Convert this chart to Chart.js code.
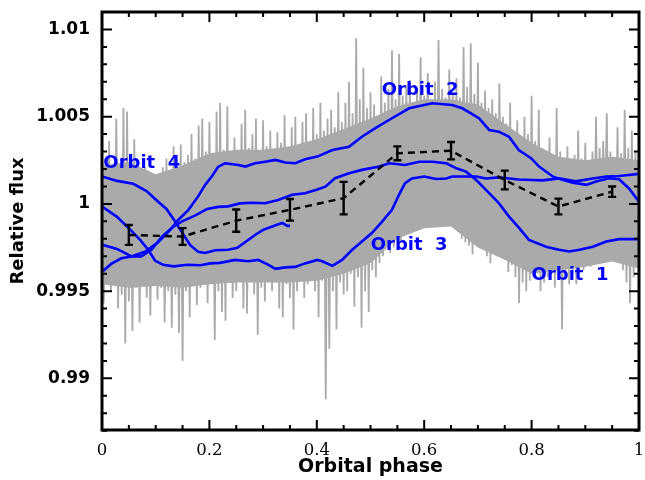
<!DOCTYPE html>
<html lang="en">
<head>
<meta charset="UTF-8">
<title>Relative flux vs orbital phase</title>
<script src="https://cdn.jsdelivr.net/npm/chart.js@4.4.1/dist/chart.umd.min.js"></script>
<style>
    html, body { margin: 0; padding: 0; background: #fff; }
    #wrap { width: 645px; height: 480px; }
</style>
</head>
<body>
<div id="wrap"><canvas id="fluxChart" width="645" height="480"></canvas></div>
<script>
// raw light curve: upper and lower excursion in each phase sample
const rawHi = [
    1.0031, 1.0018, 1.0036, 1.0020, 1.0049, 1.0022, 1.0055, 1.0053, 1.0026, 1.0037,
    1.0023, 1.0016, 1.0021, 1.0019, 1.0014, 1.0009, 1.0012, 1.0021, 1.0026, 1.0018,
    1.0033, 1.0020, 1.0034, 1.0024, 1.0028, 1.0040, 1.0026, 1.0045, 1.0049, 1.0030,
    1.0047, 1.0028, 1.0053, 1.0058, 1.0031, 1.0056, 1.0030, 1.0038, 1.0027, 1.0046,
    1.0054, 1.0032, 1.0040, 1.0049, 1.0029, 1.0048, 1.0033, 1.0042, 1.0030, 1.0041,
    1.0035, 1.0051, 1.0032, 1.0044, 1.0050, 1.0034, 1.0047, 1.0052, 1.0036, 1.0055,
    1.0040, 1.0058, 1.0042, 1.0049, 1.0054, 1.0044, 1.0064, 1.0047, 1.0058, 1.0070,
    1.0052, 1.0095, 1.0060, 1.0078, 1.0055, 1.0064, 1.0057, 1.0050, 1.0073, 1.0058,
    1.0066, 1.0088, 1.0060, 1.0086, 1.0062, 1.0068, 1.0071, 1.0058, 1.0066, 1.0084,
    1.0062, 1.0075, 1.0060, 1.0070, 1.0094, 1.0066, 1.0061, 1.0077, 1.0064, 1.0072,
    1.0061, 1.0090, 1.0067, 1.0092, 1.0063, 1.0081, 1.0058, 1.0065, 1.0055, 1.0060,
    1.0052, 1.0069, 1.0050, 1.0046, 1.0058, 1.0042, 1.0048, 1.0038, 1.0050, 1.0040,
    1.0062, 1.0036, 1.0054, 1.0032, 1.0030, 1.0038, 1.0028, 1.0055, 1.0030, 1.0026,
    1.0033, 1.0024, 1.0028, 1.0042, 1.0026, 1.0035, 1.0025, 1.0030, 1.0050, 1.0032,
    1.0036, 1.0052, 1.0030, 1.0027, 1.0044, 1.0029, 1.0054, 1.0032, 1.0042, 1.0030,
    1.0037
];
const rawLo = [
    0.9943, 0.9955, 0.9950, 0.9958, 0.9940, 0.9948, 0.9920, 0.9944, 0.9927, 0.9952,
    0.9932, 0.9955, 0.9946, 0.9936, 0.9956, 0.9945, 0.9952, 0.9932, 0.9950, 0.9929,
    0.9948, 0.9926, 0.9910, 0.9950, 0.9935, 0.9955, 0.9942, 0.9952, 0.9958, 0.9943,
    0.9954, 0.9922, 0.9950, 0.9938, 0.9933, 0.9955, 0.9946, 0.9950, 0.9958, 0.9940,
    0.9937, 0.9956, 0.9948, 0.9925, 0.9952, 0.9944, 0.9958, 0.9950, 0.9955, 0.9940,
    0.9935, 0.9954, 0.9946, 0.9928, 0.9950, 0.9956, 0.9946, 0.9954, 0.9958, 0.9950,
    0.9935, 0.9956, 0.9888, 0.9917, 0.9950, 0.9928, 0.9955, 0.9948, 0.9950, 0.9960,
    0.9941, 0.9958, 0.9929, 0.9950, 0.9938, 0.9962, 0.9958, 0.9966, 0.9970, 0.9975,
    0.9972, 0.9975, 0.9980, 0.9978, 0.9985, 0.9983, 0.9988, 0.9985, 0.9988, 0.9987,
    0.9990, 0.9987, 0.9992, 0.9989, 0.9992, 0.9990, 0.9988, 0.9991, 0.9986, 0.9984,
    0.9980, 0.9978, 0.9976, 0.9971, 0.9978, 0.9977, 0.9974, 0.9970, 0.9966, 0.9972,
    0.9970, 0.9977, 0.9968, 0.9961, 0.9965, 0.9958, 0.9943, 0.9955, 0.9950, 0.9956,
    0.9958, 0.9961, 0.9950, 0.9955, 0.9958, 0.9962, 0.9952, 0.9960, 0.9928, 0.9958,
    0.9954, 0.9960, 0.9954, 0.9966, 0.9962, 0.9968, 0.9964, 0.9975, 0.9970, 0.9981,
    0.9994, 0.9978, 0.9985, 0.9972, 0.9968, 0.9962, 0.9955, 0.9943, 0.9958, 0.9966,
    0.9960
];

// range that holds the bulk of the raw points, every 0.05 in phase
const corePhase = [0, 0.05, 0.1, 0.15, 0.2, 0.25, 0.3, 0.35, 0.4, 0.45, 0.5,
    0.55, 0.6, 0.65, 0.7, 0.75, 0.8, 0.85, 0.9, 0.95, 1];
const coreTop = [1.0022, 1.0024, 1.0017, 1.0022, 1.0029, 1.0031, 1.0031, 1.0033, 1.0037, 1.0043, 1.0049,
    1.0056, 1.0060, 1.0060, 1.0057, 1.0046, 1.0035, 1.0027, 1.0025, 1.0027, 1.0025];
const coreBot = [0.9954, 0.9952, 0.9953, 0.9952, 0.9954, 0.9955, 0.9955, 0.9955, 0.9956, 0.9960, 0.9966,
    0.9980, 0.9986, 0.9987, 0.9975, 0.9968, 0.9960, 0.9962, 0.9964, 0.9967, 0.9963];

// smoothed light curve of each HST orbit
const orbit1Phase = [0.002, 0.028, 0.055, 0.073, 0.092, 0.112, 0.131, 0.149, 0.172, 0.196,
    0.216, 0.235, 0.257, 0.280, 0.304, 0.328, 0.354, 0.378, 0.401, 0.416, 0.434, 0.460,
    0.484, 0.516, 0.535, 0.564, 0.591, 0.615, 0.641, 0.660, 0.678, 0.697, 0.715, 0.739,
    0.758, 0.777, 0.795, 0.827, 0.851, 0.870, 0.889, 0.914, 0.939, 0.963, 1.0];
const orbit1Flux = [0.99765, 0.99742, 0.99699, 0.99699, 0.99737, 0.99814, 0.99865, 0.99900,
    0.99931, 0.99971, 0.99983, 0.99986, 1.00003, 1.00007, 1.00004, 1.00023, 1.00052, 1.00061,
    1.00083, 1.00099, 1.00147, 1.00176, 1.00195, 1.00214, 1.00233, 1.00223, 1.00242, 1.00242,
    1.00233, 1.00204, 1.00185, 1.00137, 1.00080, 1.00004, 0.99927, 0.99861, 0.99794, 0.99755,
    0.99737, 0.99727, 0.99737, 0.99755, 0.99784, 0.99798, 0.99798];

const orbit2Phase = [0.002, 0.017, 0.036, 0.055, 0.081, 0.105, 0.127, 0.142, 0.161, 0.179,
    0.192, 0.205, 0.216, 0.229, 0.254, 0.267, 0.285, 0.304, 0.323, 0.341, 0.360, 0.378,
    0.401, 0.429, 0.460, 0.484, 0.509, 0.540, 0.572, 0.600, 0.615, 0.652, 0.671, 0.702,
    0.721, 0.739, 0.758, 0.776, 0.799, 0.814, 0.840, 0.859, 0.877, 0.902, 0.920, 0.944,
    0.963, 0.981, 1.0];
const orbit2Flux = [0.99616, 0.99656, 0.99688, 0.99699, 0.99728, 0.99782, 0.99851, 0.99908,
    0.99966, 1.00043, 1.00109, 1.00160, 1.00212, 1.00233, 1.00223, 1.00214, 1.00233, 1.00242,
    1.00252, 1.00237, 1.00233, 1.00256, 1.00271, 1.00309, 1.00328, 1.00385, 1.00434, 1.00491,
    1.00548, 1.00567, 1.00577, 1.00567, 1.00548, 1.00491, 1.00424, 1.00414, 1.00385, 1.00309,
    1.00262, 1.00214, 1.00156, 1.00137, 1.00122, 1.00109, 1.00128, 1.00147, 1.00141, 1.00090,
    1.00013];

const orbit3Phase = [0.0, 0.028, 0.053, 0.071, 0.086, 0.099, 0.114, 0.133, 0.159, 0.183,
    0.202, 0.220, 0.248, 0.272, 0.291, 0.310, 0.323, 0.341, 0.360, 0.378, 0.401, 0.410,
    0.429, 0.447, 0.466, 0.484, 0.503, 0.522, 0.540, 0.553, 0.564, 0.577, 0.600, 0.622,
    0.641, 0.652, 0.678, 0.697, 0.715, 0.739, 0.758, 0.776, 0.799, 0.821, 0.851, 0.882,
    0.914, 0.939, 0.963, 0.981, 1.0];
const orbit3Flux = [0.99985, 0.99926, 0.99851, 0.99794, 0.99737, 0.99674, 0.99651, 0.99642,
    0.99651, 0.99648, 0.99659, 0.99662, 0.99679, 0.99671, 0.99679, 0.99651, 0.99628, 0.99636,
    0.99639, 0.99659, 0.99679, 0.99671, 0.99645, 0.99679, 0.99737, 0.99785, 0.99834, 0.99900,
    0.99966, 1.00052, 1.00117, 1.00146, 1.00157, 1.00143, 1.00146, 1.00157, 1.00157, 1.00157,
    1.00146, 1.00152, 1.00146, 1.00140, 1.00137, 1.00135, 1.00146, 1.00129, 1.00146, 1.00157,
    1.00160, 1.00166, 1.00172];

const orbit4Phase = [0.0, 0.028, 0.058, 0.083, 0.103, 0.120, 0.133, 0.146, 0.164, 0.179,
    0.192, 0.211, 0.235, 0.252, 0.267, 0.285, 0.300, 0.326, 0.336, 0.345, 0.350];
const orbit4Flux = [1.00157, 1.00132, 1.00115, 1.00074, 1.00017, 0.99971, 0.99914, 0.99851,
    0.99765, 0.99725, 0.99719, 0.99734, 0.99737, 0.99748, 0.99782, 0.99822, 0.99851, 0.99880,
    0.99891, 0.99874, 0.99874];

// phase-binned mean with 1-sigma errors
const binPhase = [0.05, 0.15, 0.25, 0.35, 0.45, 0.55, 0.65, 0.75, 0.85, 0.95];
const binFlux = [0.99822, 0.99813, 0.99904, 0.99966, 1.00033, 1.00290, 1.00305, 1.00137, 0.99985, 1.00070];
const binErr = [0.00057, 0.00048, 0.00064, 0.00062, 0.00093, 0.00040, 0.00050, 0.00054, 0.00045, 0.00030];

// orbit labels: text, phase, flux, alignment
const orbitLabels = [
    ['Orbit  4', 0.0025, 1.00235, 'left'],
    ['Orbit  2', 0.5925, 1.00653, 'center'],
    ['Orbit  3', 0.5720, 0.99765, 'center'],
    ['Orbit  1', 0.8716, 0.99590, 'center']
];

const xMajor = [0, 0.2, 0.4, 0.6, 0.8, 1];
const xLabels = ['0', '0.2', '0.4', '0.6', '0.8', '1'];
const xMinor = [0.05, 0.1, 0.15, 0.25, 0.3, 0.35, 0.45, 0.5, 0.55, 0.65, 0.7, 0.75, 0.85, 0.9, 0.95];
const yMajor = [0.99, 0.995, 1, 1.005, 1.01];
const yLabels = ['0.99', '0.995', '1', '1.005', '1.01'];
const yMinor = [0.987, 0.988, 0.989, 0.991, 0.992, 0.993, 0.994, 0.996, 0.997, 0.998, 0.999,
    1.001, 1.002, 1.003, 1.004, 1.006, 1.007, 1.008, 1.009, 1.011];

const rawStep = 1 / (rawHi.length - 1);
const rawPoints = [];
rawHi.forEach((hi, i) => {
    rawPoints.push({ x: i * rawStep, y: hi });
    rawPoints.push({ x: i * rawStep + rawStep / 2, y: rawLo[i] });
});

const toXY = (xs, ys) => xs.map((x, i) => ({ x: x, y: ys[i] }));
const blue = '#0000ff';
const gray = '#aaaaaa';

function orbitSet(xs, ys) {
    return {
        data: toXY(xs, ys),
        borderColor: blue,
        borderWidth: 2.6,
        pointRadius: 0,
        tension: 0,
        order: 2
    };
}

// frame with inward ticks on all four sides
const framePlugin = {
    id: 'frame',
    afterDraw(chart) {
        const { ctx, chartArea: a, scales: { x, y } } = chart;
        ctx.save();
        ctx.strokeStyle = '#000';
        ctx.lineWidth = 2;
        ctx.beginPath();
        const tick = (vals, len) => {
            vals.forEach(v => {
                const px = x.getPixelForValue(v);
                ctx.moveTo(px, a.bottom); ctx.lineTo(px, a.bottom - len);
                ctx.moveTo(px, a.top); ctx.lineTo(px, a.top + len);
            });
        };
        const ytick = (vals, len) => {
            vals.forEach(v => {
                const py = y.getPixelForValue(v);
                ctx.moveTo(a.left, py); ctx.lineTo(a.left + len, py);
                ctx.moveTo(a.right, py); ctx.lineTo(a.right - len, py);
            });
        };
        tick(xMajor, 10); tick(xMinor, 5);
        ytick(yMajor, 10); ytick(yMinor, 5);
        ctx.stroke();
        ctx.lineWidth = 3;
        ctx.strokeRect(a.left, a.top, a.right - a.left, a.bottom - a.top);
        ctx.restore();
    }
};

// error bars on the binned points and the orbit labels
const overlayPlugin = {
    id: 'overlay',
    afterDatasetsDraw(chart) {
        const { ctx, scales: { x, y } } = chart;
        ctx.save();
        ctx.strokeStyle = '#000';
        ctx.lineWidth = 2.4;
        ctx.beginPath();
        binPhase.forEach((p, i) => {
            const px = x.getPixelForValue(p);
            const top = y.getPixelForValue(binFlux[i] + binErr[i]);
            const bot = y.getPixelForValue(binFlux[i] - binErr[i]);
            ctx.moveTo(px, top); ctx.lineTo(px, bot);
            ctx.moveTo(px - 4, top); ctx.lineTo(px + 4, top);
            ctx.moveTo(px - 4, bot); ctx.lineTo(px + 4, bot);
        });
        ctx.stroke();

        ctx.fillStyle = blue;
        ctx.font = 'bold 18px "DejaVu Sans"';
        ctx.textBaseline = 'middle';
        orbitLabels.forEach(([text, p, f, align]) => {
            ctx.textAlign = align;
            ctx.fillText(text, x.getPixelForValue(p), y.getPixelForValue(f));
        });
        ctx.restore();
    }
};

new Chart(document.getElementById('fluxChart'), {
    type: 'line',
    data: {
        datasets: [
            {
                data: binPhase.map((p, i) => ({ x: p, y: binFlux[i] })),
                borderColor: '#000',
                borderWidth: 2.4,
                borderDash: [7, 5],
                pointRadius: 0,
                tension: 0,
                order: 1
            },
            orbitSet(orbit1Phase, orbit1Flux),
            orbitSet(orbit2Phase, orbit2Flux),
            orbitSet(orbit3Phase, orbit3Flux),
            orbitSet(orbit4Phase, orbit4Flux),
            {
                data: rawPoints,
                borderColor: gray,
                borderWidth: 1.8,
                pointRadius: 0,
                tension: 0,
                order: 3
            },
            {
                data: toXY(corePhase, coreTop),
                borderWidth: 0,
                pointRadius: 0,
                tension: 0,
                backgroundColor: gray,
                fill: '+1',
                order: 4
            },
            {
                data: toXY(corePhase, coreBot),
                borderWidth: 0,
                pointRadius: 0,
                tension: 0,
                fill: false,
                order: 5
            }
        ]
    },
    options: {
        responsive: false,
        animation: false,
        devicePixelRatio: 1,
        layout: { padding: { top: 12, right: 6, left: 0, bottom: 0 } },
        plugins: { legend: { display: false }, tooltip: { enabled: false } },
        scales: {
            x: {
                type: 'linear',
                min: 0,
                max: 1,
                grid: { display: false, drawTicks: false },
                border: { display: false },
                afterBuildTicks: s => { s.ticks = xMajor.map(v => ({ value: v })); },
                afterFit: s => { s.height = 50; s.paddingLeft = 0; s.paddingRight = 0; },
                ticks: {
                    padding: 11,
                    color: '#000',
                    maxRotation: 0,
                    font: { family: 'DejaVu Serif', size: 16.5 },
                    callback: (v, i) => xLabels[i]
                },
                title: {
                    display: true,
                    text: 'Orbital phase',
                    color: '#000',
                    font: { family: 'DejaVu Sans', size: 19, weight: 'bold' },
                    padding: { top: 0, bottom: 2 }
                }
            },
            y: {
                type: 'linear',
                min: 0.98704,
                max: 1.0110,
                grid: { display: false, drawTicks: false },
                border: { display: false },
                afterBuildTicks: s => { s.ticks = yMajor.map(v => ({ value: v })); },
                afterFit: s => { s.width = 102; s.paddingTop = 0; s.paddingBottom = 0; },
                ticks: {
                    padding: 12,
                    color: '#000',
                    font: { family: 'DejaVu Sans', size: 17, weight: 'bold' },
                    callback: (v, i) => yLabels[i]
                },
                title: {
                    display: true,
                    text: 'Relative flux',
                    color: '#000',
                    font: { family: 'DejaVu Sans', size: 18, weight: 'bold' },
                    padding: { top: 8, bottom: 0 }
                }
            }
        }
    },
    plugins: [framePlugin, overlayPlugin]
});
</script>
</body>
</html>
